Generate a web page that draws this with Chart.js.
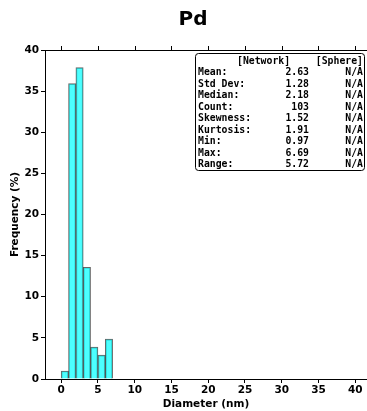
<!DOCTYPE html>
<html>
<head>
<meta charset="utf-8">
<script src="https://cdn.jsdelivr.net/npm/chart.js@4"></script>
<style>
  html, body { margin: 0; padding: 0; background: #fff; overflow: hidden; }
</style>
</head>
<body>
<canvas id="myChart" width="367" height="411"></canvas>
<script>
// histogram of particle diameters, 1 nm bins
const binCenters = [0.5, 1.5, 2.5, 3.5, 4.5, 5.5, 6.5];
const frequency = [0.97, 35.92, 37.86, 13.59, 3.88, 2.91, 4.85];
const xTicks = [0, 5, 10, 15, 20, 25, 30, 35, 40];
const yTicks = [0, 5, 10, 15, 20, 25, 30, 35, 40];

// summary table in the top right corner
const statNames = ['Mean:', 'Std Dev:', 'Median:', 'Count:', 'Skewness:', 'Kurtosis:', 'Min:', 'Max:', 'Range:'];
const networkStats = ['2.63', '1.28', '2.18', '103', '1.52', '1.91', '0.97', '6.69', '5.72'];
const sphereStats = ['N/A', 'N/A', 'N/A', 'N/A', 'N/A', 'N/A', 'N/A', 'N/A', 'N/A'];

const ctx = document.getElementById('myChart');
const mono = 'bold 9.8px "DejaVu Sans Mono", monospace';

const extras = {
    id: 'extras',
    afterDraw(chart) {
        const c = chart.ctx;
        const area = chart.chartArea;
        const xs = chart.scales.x;
        c.save();

        // title
        c.fillStyle = '#000';
        c.font = 'bold 20px "DejaVu Sans", sans-serif';
        c.textAlign = 'center';
        c.textBaseline = 'middle';
        c.fillText('Pd', 193, 20);

        // top spine with outward ticks
        c.strokeStyle = '#000';
        c.lineWidth = 1;
        c.beginPath();
        c.moveTo(area.left, area.top + 0.5);
        c.lineTo(area.right, area.top + 0.5);
        xTicks.forEach(v => {
            const px = Math.round(xs.getPixelForValue(v)) + 0.5;
            c.moveTo(px, area.top);
            c.lineTo(px, area.top - 4);
        });
        c.stroke();

        // stats box
        const bx = 195.5, by = 53.5, bw = 169, bh = 117;
        c.fillStyle = '#fff';
        c.strokeStyle = '#000';
        c.beginPath();
        c.roundRect(bx, by, bw, bh, 3);
        c.fill();
        c.stroke();

        c.fillStyle = '#000';
        c.font = mono;
        c.textBaseline = 'middle';
        c.textAlign = 'left';
        c.fillText('[Network]', 237, 61);
        c.textAlign = 'right';
        c.fillText('[Sphere]', 363, 61);
        statNames.forEach((name, i) => {
            const y = 72.5 + i * 11.55;
            c.textAlign = 'left';
            c.fillText(name, 198, y);
            c.textAlign = 'right';
            c.fillText(networkStats[i], 309, y);
            c.fillText(sphereStats[i], 363, y);
        });
        c.restore();
    }
};

const tickFont = { family: '"DejaVu Sans", sans-serif', size: 10.5, weight: 'bold' };

new Chart(ctx, {
    type: 'bar',
    data: {
        datasets: [{
            data: binCenters.map((x, i) => ({ x: x, y: frequency[i] })),
            backgroundColor: 'rgba(0, 255, 255, 0.7)',
            borderColor: 'rgba(0, 0, 0, 0.6)',
            borderWidth: 1,
            barPercentage: 1,
            categoryPercentage: 1
        }]
    },
    options: {
        responsive: false,
        animation: false,
        layout: { padding: { top: 50, right: 0, left: 0, bottom: 0 } },
        plugins: {
            legend: { display: false },
            tooltip: { enabled: false }
        },
        scales: {
            x: {
                type: 'linear',
                offset: false,
                min: -2.2,
                max: 41.6,
                afterBuildTicks: s => { s.ticks = xTicks.map(v => ({ value: v })); },
                afterFit: s => { s.height = 32; },
                grid: { offset: false, drawOnChartArea: false, drawTicks: true, tickLength: 4, color: '#000' },
                border: { color: '#000', width: 1 },
                ticks: { color: '#000', font: tickFont, padding: 1, maxRotation: 0 },
                title: {
                    display: true,
                    text: 'Diameter (nm)',
                    color: '#000',
                    font: tickFont,
                    padding: { top: 0, bottom: 0 }
                }
            },
            y: {
                min: 0,
                max: 40,
                afterBuildTicks: s => { s.ticks = yTicks.map(v => ({ value: v })); },
                afterFit: s => { s.width = 45; },
                grid: { drawOnChartArea: false, drawTicks: true, tickLength: 4, color: '#000' },
                border: { color: '#000', width: 1 },
                ticks: { color: '#000', font: tickFont, padding: 2 },
                title: {
                    display: true,
                    text: 'Frequency (%)',
                    color: '#000',
                    font: tickFont,
                    padding: { top: 9, bottom: 0 }
                }
            }
        }
    },
    plugins: [extras]
});
</script>
</body>
</html>
